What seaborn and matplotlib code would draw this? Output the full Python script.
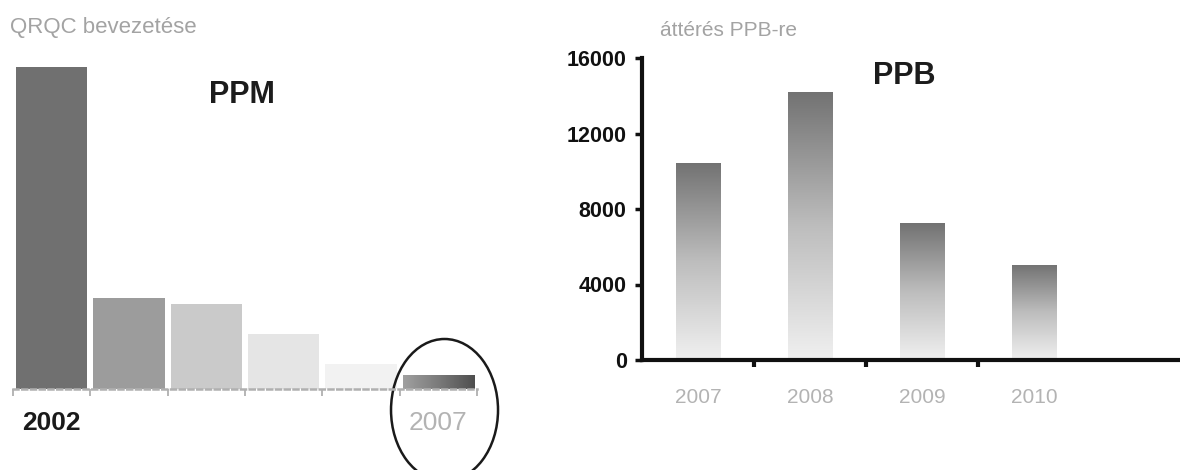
import numpy as np
import pandas as pd
import matplotlib
matplotlib.use("Agg")
import matplotlib.pyplot as plt
import seaborn as sns
from matplotlib.colors import LinearSegmentedColormap
from matplotlib.patches import Ellipse
from matplotlib.transforms import ScaledTranslation

# ---- data ----
ppm_years = ["2002", "2003", "2004", "2005", "2006", "2007"]
ppm_values = [3220, 910, 850, 550, 250, 140]
ppb_years = ["2007", "2008", "2009", "2010"]
ppb_values = [10450, 14200, 7250, 5050]
ppb_ticks = [0, 4000, 8000, 12000, 16000]

ppm_colors = ["#707070", "#9c9c9c", "#cacaca", "#e5e5e5", "#f2f2f2", "#6a6a6a"]

sns.set_theme(style="white")
plt.rcParams["font.family"] = ["Liberation Sans", "DejaVu Sans"]

W, H = 1180, 470
fig = plt.figure(figsize=(W / 100, H / 100), dpi=100)
axL = fig.add_axes([13 / W, 81 / H, 464 / W, 330 / H])
axR = fig.add_axes([642 / W, 110 / H, 538 / W, 302 / H])


def fill_gradient(ax, patch, colors, vertical=True):
    x, y, w, h = patch.get_x(), patch.get_y(), patch.get_width(), patch.get_height()
    grad = np.linspace(0, 1, 256)
    arr = grad.reshape(-1, 1) if vertical else grad.reshape(1, -1)
    cmap = LinearSegmentedColormap.from_list("g", colors)
    im = ax.imshow(arr, cmap=cmap, extent=[x, x + w, y, y + h], origin="lower",
                   aspect="auto", interpolation="bicubic", zorder=patch.get_zorder())
    im.set_clip_path(patch)
    patch.set_facecolor("none")


# ---- left: PPM ----
dfL = pd.DataFrame({"year": ppm_years, "ppm": ppm_values})
sns.barplot(data=dfL, x="year", y="ppm", hue="year", palette=ppm_colors, legend=False,
            saturation=1, width=0.92, linewidth=0, ax=axL)
patchesL = sorted(axL.patches, key=lambda p: p.get_x())
fill_gradient(axL, patchesL[-1], ["#a0a0a0", "#7a7a7a", "#4e4e4e"], vertical=False)
axL.set_xlim(-0.5, len(ppm_years) - 0.5)
axL.set_ylim(0, 3300)
axL.set_xlabel("")
axL.set_ylabel("")
axL.set_yticks([])
for s in ["left", "top", "right"]:
    axL.spines[s].set_visible(False)
axL.spines["bottom"].set_color("#b0b0b0")
axL.spines["bottom"].set_linewidth(1.8)
axL.spines["bottom"].set_linestyle((0, (2, 1.5)))
axL.set_xticks(range(len(ppm_years)))
axL.set_xticklabels(ppm_years)
axL.set_xticks(np.arange(-0.5, len(ppm_years), 1), minor=True)
axL.tick_params(axis="x", which="major", length=0, pad=16, labelsize=19)
axL.tick_params(axis="x", which="minor", length=5, width=1.3, color="#b0b0b0",
                direction="out", bottom=True)
labsL = axL.get_xticklabels()
for i, lb in enumerate(labsL):
    if i == 0:
        lb.set_fontweight("bold")
        lb.set_color("#1a1a1a")
    elif i == len(labsL) - 1:
        lb.set_color("#b3b3b3")
    else:
        lb.set_visible(False)

ell = Ellipse((0, 0), 1.07, 1.42, fill=False, edgecolor="#1a1a1a", lw=1.8,
              transform=fig.dpi_scale_trans + ScaledTranslation(5.08, -210, axL.transData),
              clip_on=False)
axL.add_artist(ell)

# ---- right: PPB ----
dfR = pd.DataFrame({"year": ppb_years, "ppb": ppb_values})
sns.barplot(data=dfR, x="year", y="ppb", color="#999999", saturation=1, width=0.4,
            linewidth=0, ax=axR)
for p in axR.patches:
    fill_gradient(axR, p, ["#f0f0f0", "#bdbdbd", "#727272"], vertical=True)
axR.set_xlim(-0.5, 4.3)
axR.set_ylim(0, 16000)
axR.set_xlabel("")
axR.set_ylabel("")
sns.despine(ax=axR)
for s in ["left", "bottom"]:
    axR.spines[s].set_color("#111111")
    axR.spines[s].set_linewidth(3)
axR.set_yticks(ppb_ticks)
axR.set_yticklabels([str(t) for t in ppb_ticks])
axR.tick_params(axis="y", direction="out", length=5, width=2.5, color="#111111",
                labelsize=15.5, labelcolor="#111111", pad=6, left=True)
for lb in axR.get_yticklabels():
    lb.set_fontweight("bold")
axR.set_xticks(range(len(ppb_years)))
axR.set_xticklabels(ppb_years)
axR.set_xticks(np.arange(0.5, len(ppb_years) - 1, 1), minor=True)
axR.tick_params(axis="x", which="major", length=0, pad=20, labelsize=15, labelcolor="#b3b3b3")
axR.tick_params(axis="x", which="minor", direction="out", length=5, width=3,
                color="#111111", bottom=True)

# ---- annotations ----
fig.text(10 / W, 1 - 28 / H, "QRQC bevezetése", color="#a3a3a3", fontsize=16,
         ha="left", va="center")
fig.text(660 / W, 1 - 30 / H, "áttérés PPB-re", color="#a3a3a3", fontsize=15,
         ha="left", va="center")
fig.text(242 / W, 1 - 95 / H, "PPM", color="#1c1c1c", fontsize=22, fontweight="bold",
         ha="center", va="center")
fig.text(904 / W, 1 - 76 / H, "PPB", color="#1c1c1c", fontsize=22, fontweight="bold",
         ha="center", va="center")

fig.savefig("out.png", dpi=100)
